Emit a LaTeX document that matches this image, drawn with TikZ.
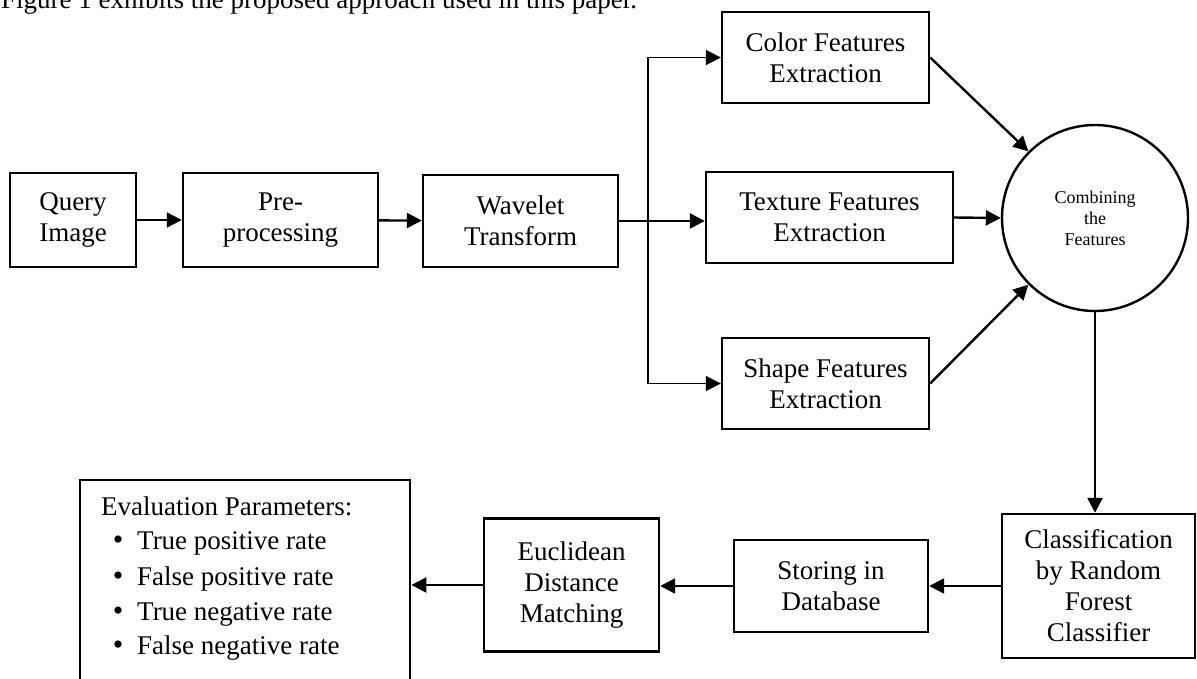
\documentclass[tikz,border=0pt]{standalone}
\usepackage{fontspec}
\setmainfont{Liberation Serif}
\usetikzlibrary{arrows.meta}
\begin{document}
\begin{tikzpicture}[x=1pt,y=-1pt,
  box/.style={draw, line width=2.4pt, rectangle, align=center, inner sep=0pt,
    font=\fontsize{27}{31}\selectfont},
  arr/.style={line width=2.4pt, -{Triangle[length=15pt,width=15pt]}},
  thinarr/.style={line width=1.8pt, -{Triangle[length=15pt,width=15pt]}},
  txt/.style={inner sep=0pt, font=\fontsize{27}{31}\selectfont}]
\useasboundingbox (0,0) rectangle (1197,679);
% top sentence (cut by the page edge)
\node[txt, anchor=base west] (sent) at (1,9) {Figure 1 exhibits the proposed approach used in this paper.};
% first row
\node[box, minimum width=126pt, minimum height=94pt] (query) at (73,220) {Query\\Image};
\node[box, minimum width=195pt, minimum height=94pt] (pre) at (280.5,220) {Pre-\\processing};
\node[box, minimum width=195pt, minimum height=92pt] (wave) at (520.5,221) {Wavelet\\Transform};
% features
\node[box, minimum width=207pt, minimum height=91pt] (color) at (825.5,57.5) {Color Features\\Extraction};
\node[box, minimum width=247pt, minimum height=91pt] (texture) at (829.5,217.5) {Texture Features\\Extraction};
\node[box, minimum width=207pt, minimum height=91pt] (shape) at (825.5,383.5) {Shape Features\\Extraction};
\node[draw, line width=2.4pt, circle, minimum size=186pt, inner sep=0pt, align=center,
  font=\fontsize{18}{21}\selectfont] (comb) at (1095,218) {Combining\\the\\Features};
% bottom row
\node[box, minimum width=193pt, minimum height=144pt] (classif) at (1098.5,586) {Classification\\by Random\\Forest\\Classifier};
\node[box, minimum width=194pt, minimum height=92pt] (store) at (831,586) {Storing in\\Database};
\node[box, minimum width=175pt, minimum height=133pt] (eucl) at (571.5,585) {Euclidean\\Distance\\Matching};
\node[draw, line width=2.4pt, rectangle, minimum width=330pt, minimum height=226pt, anchor=north west, inner sep=0pt] (eval) at (79,479) {};
\node[txt, anchor=base west] (ev0) at (101,515) {Evaluation Parameters:};
\node[txt, anchor=base west] (ev1) at (137,549) {True positive rate};
\node[txt, anchor=base west] (ev2) at (137,585) {False positive rate};
\node[txt, anchor=base west] (ev3) at (137,620) {True negative rate};
\node[txt, anchor=base west] (ev4) at (137,654) {False negative rate};
\foreach \i/\y in {1/549,2/585,3/620,4/654}
  \node[txt, anchor=base, font=\fontsize{30}{31}\selectfont] (b\i) at (118,\y) {\textbullet};
% connectors
\coordinate (split) at (648,221);
\draw[arr] (query) -- (pre);
\draw[arr] (pre) -- (wave);
\draw[line width=1.8pt] (wave.east) -- (split);
\draw[line width=1.8pt] (split |- color.west) -- (split |- shape.west);
\draw[thinarr] (split |- color.west) -- (color.west);
\draw[arr] (split) -- (split -| texture.west);
\draw[thinarr] (split |- shape.west) -- (shape.west);
\draw[arr] (color.east) -- (comb.135);
\draw[arr] (texture.east) -- (comb.west);
\draw[arr] (shape.east) -- (comb.225);
\draw[arr] (comb.south) -- (comb.south |- classif.north);
\draw[arr] (classif.west) -- (store.east);
\draw[arr] (store.west) -- (store.west -| eucl.east);
\draw[arr] (eucl.west) -- (eucl.west -| eval.east);
\end{tikzpicture}
\end{document}
